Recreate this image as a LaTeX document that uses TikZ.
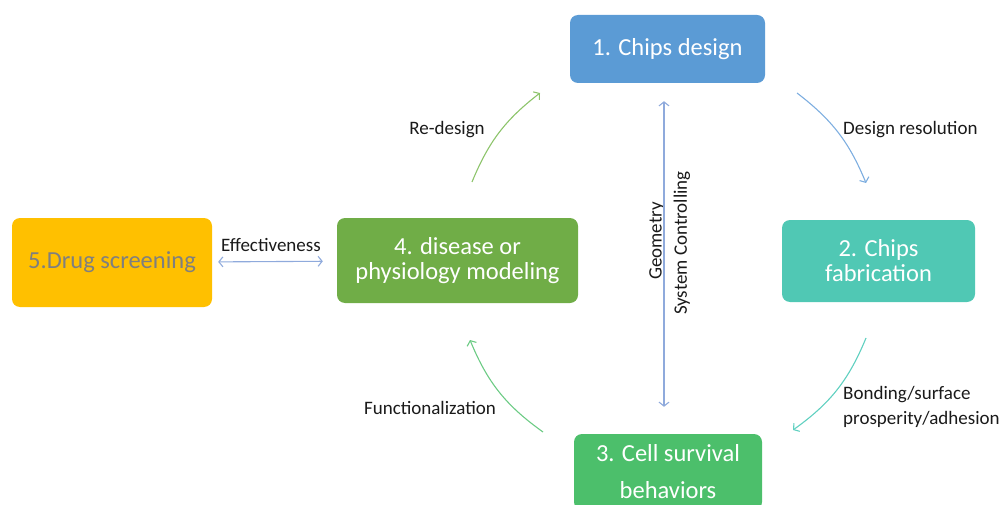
\documentclass[tikz,border=0pt]{standalone}
\usepackage{fontspec}
\setmainfont{Carlito}
\usepackage{tikz}
\usetikzlibrary{arrows.meta,positioning}
\definecolor{cDesign}{HTML}{5B9BD5}
\definecolor{cFab}{HTML}{50C8B4}
\definecolor{cCell}{HTML}{4CBF6B}
\definecolor{cModel}{HTML}{70AD47}
\definecolor{cDrug}{HTML}{FFC000}
\definecolor{cDrugTxt}{HTML}{7F7F7F}
\definecolor{cLink}{HTML}{8FAADC}
\definecolor{cLabel}{HTML}{1A1A1A}
\definecolor{cResArr}{HTML}{7EAEE0}
\definecolor{cBondArr}{HTML}{5FD0C0}
\definecolor{cFuncArr}{HTML}{6CCB84}
\definecolor{cRedesArr}{HTML}{8DC46B}
\tikzset{
  stage/.style ={rounded corners=8pt, align=center, text=white, inner sep=2pt,
                 font=\fontsize{24.5}{25}\selectfont},
  lbl/.style   ={text=cLabel, inner sep=0pt, font=\fontsize{19}{25}\selectfont},
  arrow/.style ={-{Straight Barb[length=4pt,width=10pt]}, line width=1.1pt},
  darrow/.style={{Straight Barb[length=4pt,width=10pt]}-{Straight Barb[length=4pt,width=10pt]},
                 line width=1.1pt, draw=cLink},
}
\begin{document}
\begin{tikzpicture}[x=1pt,y=-1pt]
    \useasboundingbox (0,0) rectangle (1006,505);
    \clip (0,0) rectangle (1006,505);
    \node[stage, fill=cDesign, minimum width=195pt, minimum height=68pt] (design) at (667.5,49) {1. Chips design};
    \node[stage, fill=cFab, minimum width=193pt, minimum height=82pt] (fab) at (878.5,261) {2. Chips\\fabrication};
    \node[stage, fill=cCell, minimum width=188pt, minimum height=76pt,
          font=\fontsize{24.5}{37}\selectfont] (cell) at (668,472) {3. Cell survival\\behaviors};
    \node[stage, fill=cModel, minimum width=241pt, minimum height=85pt] (model) at (457.5,260.5) {4. disease or\\physiology modeling};
    \node[stage, fill=cDrug, text=cDrugTxt, minimum width=200pt, minimum height=89pt] (drug) at (112,262.5) {5.Drug screening};
    % labels
    \node[lbl] (eff) at (271,245) {Effectiveness};
    \node[lbl, rotate=90] (geo) at (657,241) {Geometry};
    \node[lbl, rotate=90] (sys) at (682,243) {System Controlling};
    \node[lbl, anchor=west] (res) at (843,130) {Design resolution};
    \node[lbl, anchor=west, align=left] (bond) at (843,407) {Bonding/surface\\prosperity/adhesion};
    \node[lbl] (func) at (430,408) {Functionalization};
    \node[lbl] (redes) at (447,130) {Re-design};
    % cycle arrows
    \coordinate (res-a) at (797,93);    \coordinate (res-b) at (866,183);
    \coordinate (bond-a) at (866,338);  \coordinate (bond-b) at (793,430);
    \coordinate (func-a) at (543,432);  \coordinate (func-b) at (470,340);
    \coordinate (redes-a) at (472,182); \coordinate (redes-b) at (540,93);
    \coordinate (vaxis) at (664,0);
    \draw[arrow, draw=cResArr](res-a) to[bend left=15] (res-b);
    \draw[arrow, draw=cBondArr](bond-a) to[bend left=16] (bond-b);
    \draw[arrow, draw=cFuncArr](func-a) to[bend left=16] (func-b);
    \draw[arrow, draw=cRedesArr](redes-a) to[bend left=15] (redes-b);
    \draw[darrow, shorten <=18pt, shorten >=27pt](design.south -| vaxis) -- (cell.north -| vaxis);
    \draw[darrow, shorten <=6pt, shorten >=14pt](drug) -- (model);
  \end{tikzpicture}
\end{document}
